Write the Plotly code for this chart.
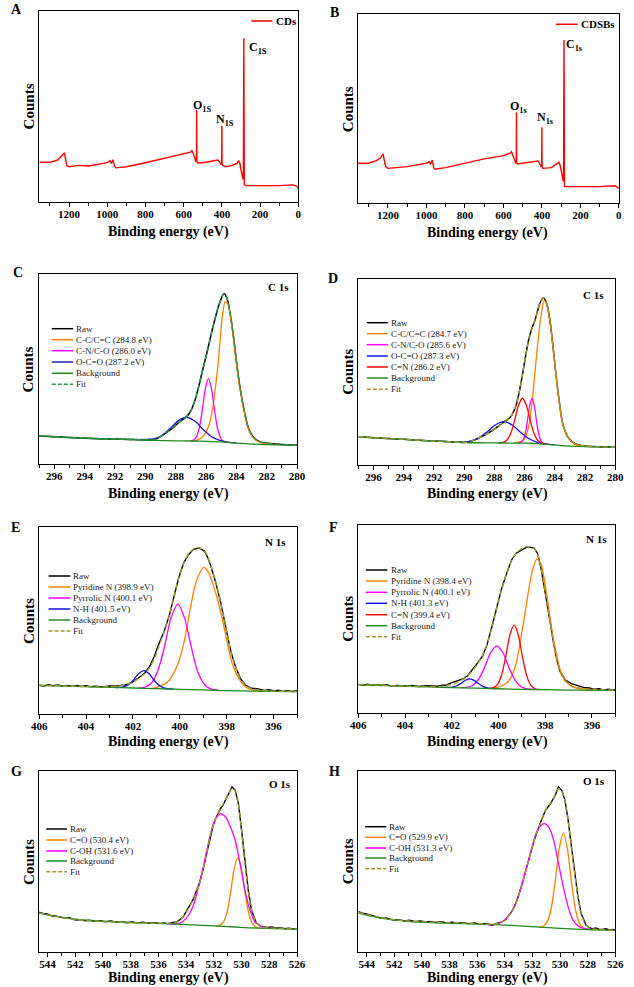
import plotly.graph_objects as go

W, H = 634, 987
FONT = 'Liberation Serif'

# ---------------- data (y in % of plot height) ----------------
# A: survey CDs
a_x = [1355, 1300, 1260, 1240, 1230, 1224, 1218, 1212, 1200, 1150, 1100, 1050, 1000, 985, 978, 970, 962, 955,
       900, 800, 700, 600, 565, 557, 550, 540, 536, 533, 532, 531, 528, 500, 450, 420, 412, 405, 401, 400, 399,
       395, 380, 350, 320, 312, 305, 300, 295, 290, 287.5, 285, 282.5, 280, 275, 200, 100, 30, 15, 5, 0]
a_y = [20.9, 20.9, 22.1, 23.9, 25.0, 25.8, 22.5, 19.2, 18.6, 19.3, 19.0, 19.9, 20.7, 21.8, 20.3, 22.3, 19.0, 18.0,
       18.6, 20.7, 23.0, 25.1, 26.2, 27.0, 25.6, 22.5, 21.2, 22.0, 48.3, 21.5, 20.7, 20.7, 21.6, 22.1, 21.0, 20.0, 20.5, 39.9, 20.0,
       19.2, 18.6, 19.2, 20.4, 21.8, 20.0, 16.9, 13.5, 12.3, 12.0, 85.7, 9.2, 8.9, 8.7, 8.7, 8.7, 9.1, 8.7, 8.0, 7.3]
# B: survey CDSBs
b_x = [1355, 1300, 1260, 1240, 1230, 1225, 1218, 1212, 1200, 1100, 1000, 985, 978, 970, 962, 955, 900, 800, 700,
       600, 565, 558, 550, 540, 535, 533, 532, 531, 528, 500, 420, 412, 405, 401, 400, 399, 395, 350, 312, 305,
       300, 295, 290, 287.5, 285, 282.5, 280, 200, 100, 20, 5, 0]
b_y = [21.2, 21.2, 22.6, 23.8, 25.3, 26.1, 22.5, 19.6, 18.5, 19.4, 21.2, 22.0, 20.6, 22.9, 19.0, 18.0, 18.9, 21.2, 23.5,
       25.2, 26.5, 27.3, 25.5, 22.5, 21.2, 22.0, 48.1, 21.5, 20.8, 21.2, 22.4, 21.0, 19.6, 20.0, 40.2, 19.5, 18.5, 18.9, 21.8, 20.0,
       17.6, 14.0, 12.3, 11.5, 86.4, 9.0, 8.8, 8.8, 8.8, 9.3, 8.4, 7.9]

# C: C 1s CDs
c_raw_x = [297, 296, 295, 294, 293, 292, 291, 290, 289.43, 289.0, 288.36, 287.72, 287.29, 287.03, 286.76, 286.54,
           286.22, 285.9, 285.62, 285.37, 285.15, 284.81, 284.62, 284.41, 284.19, 283.98, 283.77, 283.49, 283.23,
           282.91, 282.48, 281.95, 281, 280]
c_raw_y = [14.8, 14.4, 14.0, 13.6, 13.3, 13.1, 12.9, 12.7, 12.8, 14.4, 17.9, 22.3, 24.9, 27.5, 32.8, 38.9,
           49.5, 60.0, 69.6, 77.5, 83.7, 89.8, 87.2, 79.3, 67.0, 53.0, 40.7, 28.4, 19.6,
           14.4, 11.8, 10.9, 10.3, 10.0]
c_bg_x = [297, 295, 293, 291, 289.4, 288, 287, 286, 285, 284, 283, 282, 280]
c_bg_y = [14.8, 13.9, 13.3, 12.9, 12.4, 12.2, 12.1, 11.9, 11.6, 11.0, 10.5, 10.2, 10.0]
c_cc_x = [286.9, 286.65, 286.22, 285.84, 285.58, 285.37, 285.2, 285.05, 284.9, 284.73, 284.55, 284.41, 284.19,
          283.98, 283.77, 283.49, 283.23, 282.91, 282.48, 281.95, 281.5]
c_cc_y = [12.0, 12.3, 14.4, 19.6, 28.4, 40.7, 53.0, 67.0, 79.3, 85.4, 84.0, 78.5, 66.3,
          52.3, 40.0, 27.8, 19.0, 14.0, 11.5, 10.6, 10.3]
c_cn_x = [287.04, 286.84, 286.64, 286.44, 286.24, 286.04, 285.84, 285.64, 285.44, 285.24, 285.04, 284.84, 284.64]
c_cn_y = [12.2, 12.5, 14.1, 19.0, 28.5, 39.8, 45.1, 39.7, 28.3, 18.7, 13.7, 11.9, 11.4]
c_oco_x = [290.59, 290.04, 289.49, 288.94, 288.39, 287.84, 287.29, 286.74, 286.19, 285.64, 285.09, 284.54, 283.99]
c_oco_y = [12.8, 12.9, 13.2, 14.9, 18.5, 22.7, 24.6, 22.6, 18.2, 14.4, 12.4, 11.5, 11.0]

# D: C 1s CDSBs
d_raw_x = [297, 296, 295, 294, 293, 292, 291, 290.3, 289.91, 289.59, 289.06, 288.41, 287.77, 287.34, 286.91,
           286.59, 286.37, 286.16, 285.94, 285.73, 285.51, 285.3, 284.98, 284.76, 284.55, 284.33, 284.12, 283.91,
           283.69, 283.48, 283.15, 282.73, 282.19, 281.33, 280]
d_raw_y = [15.2, 14.7, 14.2, 13.8, 13.3, 12.9, 12.5, 12.2, 12.2, 12.8, 14.4, 17.1, 20.6, 23.3, 26.0,
           31.4, 38.6, 47.6, 58.3, 67.3, 73.6, 78.1, 87.1, 89.8, 87.1, 78.1, 63.7, 47.6,
           33.2, 22.4, 15.3, 11.7, 10.4, 9.9, 9.5]
d_bg_x = [297, 295, 293, 291, 290, 289, 288, 287, 286, 285.6, 285, 284, 283.5, 283, 282, 281, 280]
d_bg_y = [15.2, 14.2, 13.3, 12.5, 12.1, 11.95, 11.85, 11.8, 11.75, 11.7, 11.4, 10.8, 10.4, 10.2, 9.95, 9.7, 9.5]
d_cc_x = [286.7, 286.48, 286.05, 285.73, 285.51, 285.36, 285.19, 285.0, 284.87, 284.7, 284.55, 284.33, 284.12,
          283.91, 283.69, 283.48, 283.15, 282.73, 282.19, 281.6]
d_cc_y = [11.9, 12.2, 13.5, 20.6, 33.2, 45.8, 60.1, 75.0, 82.5, 88.5, 86.3, 77.5, 63.2,
          47.1, 32.8, 22.0, 15.0, 11.5, 10.3, 10.0]
d_cn_x = [286.41, 286.26, 286.11, 285.96, 285.81, 285.66, 285.51, 285.36, 285.21, 285.06, 284.91, 284.76, 284.61]
d_cn_y = [11.8, 12.05, 13.25, 16.85, 23.8, 32.1, 35.9, 32.0, 23.6, 16.55, 12.85, 11.6, 11.25]
d_oco_x = [290.74, 290.18, 289.62, 289.06, 288.5, 287.94, 287.38, 286.82, 286.26, 285.7, 285.14, 284.58, 284.02]
d_oco_y = [12.4, 12.3, 12.7, 14.35, 17.65, 21.5, 23.3, 21.5, 17.5, 14.1, 12.2, 11.3, 10.8]
d_cdn_x = [287.7, 287.44, 287.18, 286.92, 286.66, 286.4, 286.14, 285.88, 285.62, 285.36, 285.1, 284.84, 284.58]
d_cdn_y = [11.9, 12.1, 13.3, 16.9, 23.9, 32.1, 35.9, 32.0, 23.8, 16.7, 12.95, 11.6, 11.2]

# E: N 1s CDs
e_raw_x = [406, 405.8, 405.6, 405.4, 405.2, 405, 404.8, 404.6, 404.4, 404.2, 404, 403.8, 403.58, 403.3, 403.0,
           402.8, 402.61, 402.33, 402.05, 401.78, 401.5, 401.29, 401.09, 400.88, 400.67, 400.46, 400.26, 400.05,
           399.84, 399.63, 399.43, 399.18, 398.94, 398.8, 398.67, 398.46, 398.25, 398.04, 397.84, 397.63, 397.42,
           397.21, 396.94, 396.66, 396.4, 396.2, 395.97, 395.8, 395.6, 395.4, 395.2, 395]
e_raw_y = [15.4, 15.0, 15.6, 15.1, 15.5, 14.9, 15.3, 14.8, 15.2, 14.7, 15.1, 14.6, 14.9, 14.5, 15.0,
           15.3, 15.2, 15.5, 16.8, 19.1, 21.8, 25.4, 30.7, 37.9, 44.1, 52.1, 62.9, 72.7,
           80.7, 85.2, 87.9, 88.9, 87.0, 83.4, 78.9, 70.0, 59.3, 46.8, 34.3, 25.4, 19.1,
           15.5, 13.75, 13.4, 12.6, 13.0, 12.3, 12.7, 12.1, 12.5, 12.0, 12.4]
e_fit_x = [406, 405, 404, 403.5, 403, 402.6, 402.33, 402.05, 401.78, 401.5, 401.29, 401.09, 400.88, 400.67,
           400.46, 400.26, 400.05, 399.84, 399.63, 399.43, 399.2, 398.94, 398.8, 398.67, 398.46, 398.25, 398.04,
           397.84, 397.63, 397.42, 397.21, 396.94, 396.66, 396.2, 395.5, 395]
e_fit_y = [15.3, 15.0, 14.7, 14.5, 14.6, 15.0, 15.6, 16.8, 18.8, 21.6, 24.8, 29.6, 36.6, 44.0,
           52.1, 62.5, 72.5, 80.5, 85.5, 88.0, 88.9, 87.2, 83.6, 79.0, 70.2, 59.3, 46.8,
           34.3, 25.4, 19.1, 15.5, 13.6, 12.8, 12.3, 12.1, 12.0]
e_bg_x = [406, 405, 404, 403, 402, 401, 400, 399, 398, 397, 396, 395]
e_bg_y = [15.3, 15.0, 14.6, 14.25, 13.9, 13.55, 13.2, 12.85, 12.5, 12.25, 12.1, 12.0]
e_pyd_x = [401.3, 401.15, 400.81, 400.46, 400.19, 399.98, 399.77, 399.56, 399.36, 399.15, 398.97, 398.8, 398.6,
           398.39, 398.18, 397.97, 397.77, 397.49, 397.21, 396.94, 396.52, 396.2]
e_pyd_y = [13.6, 13.75, 15.0, 17.9, 23.6, 30.7, 41.4, 55.7, 68.2, 75.4, 78.4, 76.3, 70.0,
           61.1, 50.4, 37.9, 27.1, 19.1, 14.6, 12.9, 12.3, 12.15]
e_pyr_x = [401.79, 401.51, 401.22, 400.94, 400.65, 400.37, 400.08, 399.8, 399.51, 399.23, 398.94, 398.66, 398.37]
e_pyr_y = [13.9, 14.3, 16.45, 23.05, 36.15, 51.6, 58.75, 51.4, 35.75, 22.45, 15.65, 13.3, 12.7]
e_nh_x = [402.79, 402.58, 402.37, 402.16, 401.95, 401.74, 401.53, 401.32, 401.11, 400.9, 400.69, 400.48, 400.27]
e_nh_y = [14.2, 14.2, 14.6, 15.9, 18.6, 21.8, 23.2, 21.6, 18.3, 15.5, 14.0, 13.5, 13.3]

# F: N 1s CDSBs
f_raw_x = [406, 405.8, 405.6, 405.4, 405.2, 405, 404.8, 404.6, 404.3, 404, 403.7, 403.4, 403.1, 402.92, 402.6,
           402.4, 402.22, 402.08, 401.8, 401.53, 401.32, 401.11, 400.9, 400.69, 400.49, 400.28, 400.07, 399.86,
           399.65, 399.44, 399.24, 399.03, 398.75, 398.47, 398.33, 398.19, 398.06, 397.92, 397.78, 397.64, 397.5,
           397.36, 397.15, 396.88, 396.7, 396.53, 396.3, 396.1, 395.9, 395.69, 395.5, 395.3, 395.1, 395]
f_raw_y = [15.2, 14.8, 15.3, 14.7, 15.1, 14.6, 15.0, 14.4, 14.6, 14.2, 14.6, 14.1, 14.5, 14.5, 14.2,
           14.8, 14.9, 15.8, 16.8, 18.1, 19.8, 23.0, 26.5, 30.1, 36.3, 46.0, 56.6, 66.4,
           74.3, 81.4, 85.0, 86.7, 88.5, 87.6, 85.0, 77.9, 69.0, 58.4, 47.8, 37.2, 28.3,
           22.1, 17.7, 15.6, 15.0, 14.2, 13.4, 13.3, 12.6, 12.9, 12.3, 12.7, 12.2, 12.5]
f_fit_x = [406, 405, 404, 403, 402.5, 402.08, 401.8, 401.53, 401.32, 401.11, 400.9, 400.69, 400.49, 400.28,
           400.07, 399.86, 399.65, 399.44, 399.24, 399.03, 398.75, 398.47, 398.33, 398.19, 398.06, 397.92,
           397.78, 397.64, 397.5, 397.36, 397.15, 396.88, 396.53, 396, 395]
f_fit_y = [15.0, 14.7, 14.3, 14.0, 14.1, 15.0, 16.2, 17.8, 19.8, 22.6, 26.0, 30.6, 36.6, 45.6,
           56.0, 66.0, 74.3, 81.0, 85.0, 87.2, 88.5, 87.4, 84.8, 78.0, 69.0, 58.4,
           47.8, 37.2, 28.3, 21.8, 17.0, 14.4, 13.2, 12.5, 12.2]
f_bg_x = [406, 405, 404, 403, 402, 401, 400, 399, 398, 397, 396, 395]
f_bg_y = [15.0, 14.7, 14.3, 13.9, 13.5, 13.2, 12.9, 12.6, 12.4, 12.2, 12.1, 12.0]
f_pyd_x = [400.6, 400.35, 400.0, 399.65, 399.44, 399.24, 399.1, 398.96, 398.82, 398.68, 398.54, 398.36, 398.19,
           398.06, 397.92, 397.78, 397.64, 397.5, 397.36, 397.15, 396.94, 396.67, 396.25, 395.9]
f_pyd_y = [13.05, 13.0, 13.8, 15.9, 19.5, 26.5, 35.4, 46.0, 56.6, 67.3, 76.1, 81.8, 79.6,
           72.6, 61.9, 49.6, 38.9, 30.1, 23.0, 17.7, 14.7, 13.3, 12.7, 12.4]
f_pyr_x = [401.63, 401.37, 401.11, 400.85, 400.59, 400.33, 400.07, 399.81, 399.55, 399.29, 399.03, 398.77, 398.51]
f_pyr_y = [13.45, 13.6, 14.6, 17.95, 24.45, 32.2, 35.75, 32.05, 24.15, 17.5, 14.0, 12.85, 12.5]
f_nh_x = [402.33, 401.96, 401.78, 401.59, 401.41, 401.22, 401.04, 400.85, 400.67, 400.48, 400.11]
f_nh_y = [13.6, 13.8, 14.5, 15.9, 17.45, 18.2, 17.35, 15.6, 14.15, 13.35, 12.95]
f_cdn_x = [400.41, 400.23, 400.05, 399.87, 399.69, 399.51, 399.33, 399.15, 398.97, 398.79, 398.61, 398.43, 398.25]
f_cdn_y = [13.05, 13.4, 15.05, 20.05, 29.9, 41.55, 46.9, 41.45, 29.7, 19.75, 14.65, 12.9, 12.5]

# G: O 1s CDs
g_raw_x = [544.6, 544.3, 544.0, 543.7, 543.36, 543.0, 542.7, 542.4, 542.18, 541.9, 541.6, 541.3, 541.0, 540.6,
           540.2, 539.84, 539.4, 539.0, 538.67, 538.3, 537.9, 537.5, 537.1, 536.7, 536.32, 535.9, 535.6, 535.38,
           535.1, 534.92, 534.7, 534.45, 534.2, 533.98, 533.75, 533.51, 533.3, 533.04, 532.8, 532.57, 532.4,
           532.22, 532.05, 531.87, 531.7, 531.52, 531.35, 531.16, 530.95, 530.69, 530.46, 530.23, 530.0, 529.76,
           529.52, 529.29, 528.94, 528.58, 528.3, 528.12, 527.8, 527.5, 527.18, 526.9, 526.6, 526.3, 526]
g_raw_y = [22.0, 21.2, 21.0, 20.0, 19.8, 19.2, 18.6, 18.9, 18.1, 17.6, 17.9, 17.2, 17.5, 17.0,
           17.3, 16.7, 17.1, 16.4, 16.8, 16.2, 16.6, 16.1, 16.5, 15.9, 16.2, 15.8, 16.1, 15.7,
           16.2, 16.4, 16.6, 17.8, 19.5, 22.4, 25.5, 28.8, 33.0, 38.0, 45.0, 52.7, 59.0,
           65.5, 70.0, 73.8, 76.8, 79.3, 81.0, 83.9, 87.5, 91.2, 89.4, 82.0, 67.3, 49.0,
           34.3, 23.3, 16.0, 14.1, 13.9, 13.6, 13.8, 13.2, 13.4, 12.9, 13.1, 12.6, 12.5]
g_fit_x = [544.6, 543.36, 542.18, 541.0, 539.84, 538.67, 537.5, 536.32, 535.38, 534.92, 534.45, 533.98, 533.51,
           533.04, 532.57, 532.22, 531.87, 531.52, 531.16, 530.92, 530.69, 530.46, 530.23, 530.0, 529.76, 529.52,
           529.29, 528.94, 528.58, 528.12, 527.18, 526]
g_fit_y = [21.6, 19.6, 18.2, 17.3, 16.8, 16.4, 16.1, 15.9, 15.8, 16.1, 17.5, 22.0, 28.8,
           38.0, 52.7, 65.5, 73.8, 79.3, 84.0, 87.8, 90.5, 89.0, 82.0, 67.3, 49.0, 34.3,
           23.3, 16.0, 14.1, 13.4, 13.1, 12.7]
g_bg_x = [544.6, 543.5, 542.2, 541, 539.8, 538, 536.3, 535.15, 532.8, 530.46, 528.12, 526]
g_bg_y = [21.5, 19.8, 18.3, 17.5, 16.9, 16.3, 15.8, 15.6, 14.7, 13.8, 13.0, 12.7]
g_co_x = [531.83, 531.57, 531.31, 531.05, 530.79, 530.53, 530.27, 530.01, 529.75, 529.49, 529.23, 528.97, 528.71]
g_co_y = [14.33, 14.7, 16.5, 22.05, 33.1, 46.1, 52.1, 45.9, 32.75, 21.5, 15.8, 13.8, 13.33]
g_coh_x = [535.3, 535.03, 534.45, 533.98, 533.51, 533.16, 532.8, 532.45, 532.1, 531.8, 531.52, 531.16, 530.81,
           530.46, 530.11, 529.76, 529.4, 529.05, 528.58, 528.12, 527.8]
g_coh_y = [15.5, 15.3, 16.0, 18.7, 25.1, 34.3, 45.3, 58.2, 69.2, 74.5, 76.5, 74.7, 69.2,
           61.8, 49.0, 34.3, 23.3, 16.9, 14.1, 13.3, 13.1]

# H: O 1s CDSBs
h_raw_x = [544.6, 544.3, 544.0, 543.7, 543.4, 543.1, 542.9, 542.6, 542.3, 542.0, 541.6, 541.27, 540.9, 540.5,
           540.1, 539.7, 539.39, 539.0, 538.6, 538.2, 537.8, 537.4, 537.04, 536.6, 536.2, 535.8, 535.4, 535.1,
           534.92, 534.7, 534.45, 534.2, 533.98, 533.75, 533.51, 533.16, 532.81, 532.34, 531.87, 531.4, 531.05,
           530.7, 530.34, 530.11, 529.87, 529.64, 529.41, 529.17, 528.94, 528.7, 528.47, 528.11, 527.9, 527.64,
           527.4, 527.2, 526.94, 526.7, 526.4, 526.2, 526]
h_raw_y = [22.3, 21.4, 21.0, 20.3, 19.9, 19.0, 18.6, 18.9, 18.0, 17.6, 17.9, 17.1, 17.5, 16.8,
           17.2, 16.6, 16.9, 16.3, 16.7, 16.1, 16.5, 15.9, 16.2, 15.7, 16.0, 15.4, 15.8, 15.2,
           14.6, 15.5, 16.0, 16.6, 17.5, 19.5, 22.1, 27.6, 35.9, 48.8, 61.7, 71.8, 78.3,
           81.9, 86.6, 91.2, 89.3, 83.8, 72.7, 58.0, 43.3, 30.4, 21.2, 14.7, 13.5, 12.9,
           13.3, 12.6, 12.5, 12.8, 12.2, 12.5, 12.0]
h_fit_x = [544.6, 543.4, 542.3, 541.27, 540.2, 539.0, 537.8, 536.6, 535.4, 534.92, 534.45, 533.98, 533.51,
           533.16, 532.81, 532.34, 531.87, 531.4, 531.05, 530.7, 530.34, 530.11, 529.87, 529.64, 529.41, 529.17,
           528.94, 528.7, 528.47, 528.11, 527.64, 526.94, 526]
h_fit_y = [21.8, 19.8, 18.2, 17.3, 16.9, 16.5, 16.2, 15.9, 15.5, 15.3, 15.9, 17.6, 22.1,
           27.6, 35.9, 48.8, 61.7, 71.8, 78.3, 82.2, 87.0, 90.2, 89.0, 83.8, 72.7, 58.0,
           43.3, 30.4, 21.2, 14.7, 12.9, 12.3, 12.0]
h_bg_x = [544.6, 543.5, 542.3, 541.2, 540.56, 537.04, 534.69, 532.34, 529.99, 527.64, 526]
h_bg_y = [21.5, 19.6, 18.0, 17.1, 16.6, 15.65, 15.1, 14.2, 13.1, 12.3, 12.0]
h_co_x = [531.5, 531.21, 530.92, 530.63, 530.34, 530.05, 529.76, 529.47, 529.18, 528.89, 528.6, 528.31, 528.02]
h_co_y = [13.75, 14.25, 16.75, 24.45, 39.55, 57.4, 65.7, 57.25, 39.2, 23.85, 15.95, 13.25, 12.55]
h_coh_x = [535.2, 534.92, 534.45, 533.98, 533.51, 533.16, 532.81, 532.34, 531.99, 531.64, 531.17, 530.82, 530.46,
           530.11, 529.76, 529.41, 529.05, 528.58, 528.11, 527.7]
h_coh_y = [15.0, 14.95, 15.7, 17.9, 22.1, 27.6, 35.9, 48.8, 58.9, 67.2, 70.9, 69.1, 61.7,
           48.8, 35.9, 24.9, 17.5, 13.8, 12.9, 12.4]

# legend / label texts
c_labels = ['Raw', 'C-C/C=C (284.8 eV)', 'C-N/C-O (286.0 eV)', 'O-C=O (287.2 eV)', 'Background', 'Fit']
d_labels = ['Raw', 'C-C/C=C (284.7 eV)', 'C-N/C-O (285.6 eV)', 'O-C=O (287.3 eV)', 'C=N (286.2 eV)', 'Background', 'Fit']
e_labels = ['Raw', 'Pyridine N (398.9 eV)', 'Pyrrolic N (400.1 eV)', 'N-H (401.5 eV)', 'Background', 'Fit']
f_labels = ['Raw', 'Pyridine N (398.4 eV)', 'Pyrrolic N (400.1 eV)', 'N-H (401.3 eV)', 'C=N (399.4 eV)', 'Background', 'Fit']
g_labels = ['Raw', 'C=O (530.4 eV)', 'C-OH (531.6 eV)', 'Background', 'Fit']
h_labels = ['Raw', 'C=O (529.9 eV)', 'C-OH (531.3 eV)', 'Background', 'Fit']

# ---------------- styles ----------------
BLACK = '#000000'
ORANGE = '#ff8000'
MAGENTA = '#ff00ff'
BLUE_C = '#2020b8'
BLUE = '#1010e0'
RED = '#ff0000'
GREEN = '#1e8a1e'
FIT_C = '#2a9a4a'
OLIVE = '#a09a30'

# ---------------- geometry (px): left, top, right, bottom ----------------
PANELS = {
    1: dict(rect=(32.3, 11.0, 298.3, 202.3), xr=[1355, 0], tick0=0, dtick=200, minor=100),
    2: dict(rect=(359.7, 14.3, 627.7, 203.3), xr=[1355, 0], tick0=0, dtick=200, minor=100),
    3: dict(rect=(32.0, 274.0, 297.0, 464.0), xr=[297, 280], tick0=280, dtick=2, minor=1),
    4: dict(rect=(360.0, 279.0, 624.0, 465.0), xr=[297, 280], tick0=280, dtick=2, minor=1),
    5: dict(rect=(32.0, 527.0, 297.0, 714.0), xr=[406, 395], tick0=396, dtick=2, minor=1),
    6: dict(rect=(360.0, 525.0, 624.0, 713.0), xr=[406, 395], tick0=396, dtick=2, minor=1),
    7: dict(rect=(32.0, 771.0, 297.0, 952.0), xr=[544.6, 526], tick0=526, dtick=2, minor=1),
    8: dict(rect=(360.0, 771.0, 624.0, 952.0), xr=[544.6, 526], tick0=526, dtick=2, minor=1),
}


def px(x):
    return x / W


def py(y):
    return 1 - y / H


def refs(n):
    return ('x' if n == 1 else f'x{n}', 'y' if n == 1 else f'y{n}')


fig = go.Figure()


def add(n, x, y, color, width=1.3, dash=None, shape='spline'):
    xa, ya = refs(n)
    line = dict(color=color, width=width, shape=shape)
    if dash:
        line['dash'] = dash
    if shape == 'spline':
        line['smoothing'] = 0.8
    fig.add_trace(go.Scatter(x=x, y=y, mode='lines', line=line, xaxis=xa, yaxis=ya,
                             showlegend=False, hoverinfo='skip'))


FITDASH = '5px,3px'

# A, B surveys
add(1, a_x, a_y, RED, 1.4, shape='linear')
add(2, b_x, b_y, RED, 1.4, shape='linear')
# C
add(3, c_raw_x, c_raw_y, BLACK, 1.5)
add(3, c_cc_x, c_cc_y, ORANGE)
add(3, c_cn_x, c_cn_y, MAGENTA)
add(3, c_oco_x, c_oco_y, BLUE_C)
add(3, c_bg_x, c_bg_y, GREEN)
add(3, c_raw_x, c_raw_y, FIT_C, 1.4, FITDASH)
# D
add(4, d_raw_x, d_raw_y, BLACK, 1.5)
add(4, d_cc_x, d_cc_y, ORANGE)
add(4, d_cn_x, d_cn_y, MAGENTA)
add(4, d_oco_x, d_oco_y, BLUE)
add(4, d_cdn_x, d_cdn_y, RED)
add(4, d_bg_x, d_bg_y, GREEN)
add(4, d_raw_x, d_raw_y, OLIVE, 1.4, FITDASH)
# E
add(5, e_raw_x, e_raw_y, BLACK, 1.4, shape='linear')
add(5, e_pyd_x, e_pyd_y, ORANGE)
add(5, e_pyr_x, e_pyr_y, MAGENTA)
add(5, e_nh_x, e_nh_y, BLUE)
add(5, e_bg_x, e_bg_y, GREEN)
add(5, e_fit_x, e_fit_y, OLIVE, 1.4, FITDASH)
# F
add(6, f_raw_x, f_raw_y, BLACK, 1.4, shape='linear')
add(6, f_pyd_x, f_pyd_y, ORANGE)
add(6, f_pyr_x, f_pyr_y, MAGENTA)
add(6, f_nh_x, f_nh_y, BLUE)
add(6, f_cdn_x, f_cdn_y, RED)
add(6, f_bg_x, f_bg_y, GREEN)
add(6, f_fit_x, f_fit_y, OLIVE, 1.4, FITDASH)
# G
add(7, g_raw_x, g_raw_y, BLACK, 1.4, shape='linear')
add(7, g_co_x, g_co_y, ORANGE)
add(7, g_coh_x, g_coh_y, MAGENTA)
add(7, g_bg_x, g_bg_y, GREEN)
add(7, g_fit_x, g_fit_y, OLIVE, 1.4, FITDASH)
# H
add(8, h_raw_x, h_raw_y, BLACK, 1.4, shape='linear')
add(8, h_co_x, h_co_y, ORANGE)
add(8, h_coh_x, h_coh_y, MAGENTA)
add(8, h_bg_x, h_bg_y, GREEN)
add(8, h_fit_x, h_fit_y, OLIVE, 1.4, FITDASH)

layout = dict(width=W, height=H, margin=dict(l=0, r=0, t=0, b=0), paper_bgcolor='white',
              plot_bgcolor='white', showlegend=False)

TICKFONT = dict(family=FONT, size=11, color='black', weight='bold')
for n, p in PANELS.items():
    l, t, r, b = p['rect']
    xa, ya = refs(n)
    xkey = 'xaxis' if n == 1 else f'xaxis{n}'
    ykey = 'yaxis' if n == 1 else f'yaxis{n}'
    layout[xkey] = dict(domain=[px(l), px(r)], range=p['xr'], autorange=False, anchor=ya,
                        showline=True, linecolor='black', linewidth=1.2, mirror=True,
                        ticks='outside', ticklen=3.5, tickwidth=1, tickcolor='black',
                        ticklabelstandoff=-2,
                        tick0=p['tick0'], dtick=p['dtick'], tickfont=TICKFONT,
                        minor=dict(ticks='outside', ticklen=2.5, tickwidth=1, tickcolor='black',
                                   tick0=p['tick0'], dtick=p['minor']),
                        showgrid=False, zeroline=False, fixedrange=True)
    layout[ykey] = dict(domain=[py(b), py(t)], range=[0, 100], autorange=False, anchor=xa,
                        showline=True, linecolor='black', linewidth=1.2, mirror=True,
                        showticklabels=False, ticks='', showgrid=False, zeroline=False,
                        fixedrange=True)

annotations = []
shapes = []


def text(s, x, y, size, bold=False, xanchor='center', angle=0, color='black'):
    annotations.append(dict(text=(f'<b>{s}</b>' if bold else s), x=px(x), y=py(y), xref='paper',
                            yref='paper', xanchor=xanchor, yanchor='middle', showarrow=False,
                            textangle=angle, font=dict(family=FONT, size=size, color=color)))


# axis titles
XLAB = [(165, 232), (493, 233), (165, 494), (493, 494), (165, 742), (493, 742), (165, 978), (493, 978)]
for (xx, yy) in XLAB:
    text('Binding energy (eV)', xx, yy, 14, bold=True)
for n, p in PANELS.items():
    l, t, r, b = p['rect']
    text('Counts', l - 11, (t + b) / 2, 15, bold=True, angle=-90)

# panel letters
for s, xx, yy in [('A', 9, 9), ('B', 336, 12), ('C', 10, 272), ('D', 334, 278), ('E', 8, 527),
                  ('F', 334, 527), ('G', 9, 771), ('H', 336, 771)]:
    text(s, xx, yy, 14, bold=True)

# inner titles
for s, xx, yy in [('C 1s', 277.5, 287.5), ('C 1s', 601.5, 295), ('N 1s', 274.5, 542),
                  ('N 1s', 604.5, 539), ('O 1s', 280, 783.5), ('O 1s', 602.5, 781)]:
    text(s, xx, yy, 11, bold=True)

# survey peak labels
for s, xx, yy in [('C<sub>1S</sub>', 246, 48), ('O<sub>1S</sub>', 188, 106), ('N<sub>1S</sub>', 212, 120),
                  ('C<sub>1s</sub>', 571, 45), ('O<sub>1s</sub>', 514, 107), ('N<sub>1s</sub>', 542, 118)]:
    text(s, xx, yy, 12, bold=True, xanchor='left')

# survey legends
for (x0, x1, yy, tx, s) in [(250, 271.7, 21, 273, 'CDs'), (563, 585.3, 24.3, 586.5, 'CDSBs')]:
    shapes.append(dict(type='line', xref='paper', yref='paper', x0=px(x0), x1=px(x1), y0=py(yy), y1=py(yy),
                       line=dict(color=RED, width=1.5)))
    text(s, tx, yy, 11, bold=True, xanchor='left')

# fit-panel legends
LEG = [
    (45, 67, 68, [328.7, 339.7, 350.7, 362, 373.3, 384.3], c_labels,
     [(BLACK, 'solid'), (ORANGE, 'solid'), (MAGENTA, 'solid'), (BLUE_C, 'solid'), (GREEN, 'solid'), (FIT_C, '4px,2px')]),
    (368.7, 390.3, 391.3, [322.7, 333.7, 344.7, 356, 367, 378, 389.3], d_labels,
     [(BLACK, 'solid'), (ORANGE, 'solid'), (MAGENTA, 'solid'), (BLUE, 'solid'), (RED, 'solid'), (GREEN, 'solid'), (OLIVE, '4px,2px')]),
    (41.7, 64, 65, [576, 587, 598, 609, 620, 631], e_labels,
     [(BLACK, 'solid'), (ORANGE, 'solid'), (MAGENTA, 'solid'), (BLUE, 'solid'), (GREEN, 'solid'), (OLIVE, '4px,2px')]),
    (367.7, 389.7, 391, [570, 581, 592.3, 603.3, 614.7, 625.7, 636.7], f_labels,
     [(BLACK, 'solid'), (ORANGE, 'solid'), (MAGENTA, 'solid'), (BLUE, 'solid'), (RED, 'solid'), (GREEN, 'solid'), (OLIVE, '4px,2px')]),
    (39.3, 60.7, 61.5, [829, 840, 851, 861, 871.7], g_labels,
     [(BLACK, 'solid'), (ORANGE, 'solid'), (MAGENTA, 'solid'), (GREEN, 'solid'), (OLIVE, '4px,2px')]),
    (367, 388.7, 389.5, [826.7, 837.3, 848, 858, 868.7], h_labels,
     [(BLACK, 'solid'), (ORANGE, 'solid'), (MAGENTA, 'solid'), (GREEN, 'solid'), (OLIVE, '4px,2px')]),
]
for x0, x1, tx, rows, labels, styles in LEG:
    for yy, lab, (col, dsh) in zip(rows, labels, styles):
        shapes.append(dict(type='line', xref='paper', yref='paper', x0=px(x0), x1=px(x1), y0=py(yy), y1=py(yy),
                           line=dict(color=col, width=1.5, dash=dsh)))
        text(lab, tx, yy, 9, xanchor='left', color='#222222')

layout['annotations'] = annotations
layout['shapes'] = shapes
fig.update_layout(**layout)
fig.write_html('out.html', config={'displayModeBar': False},
               post_script="document.body.style.margin='0px';document.body.style.padding='0px';")
